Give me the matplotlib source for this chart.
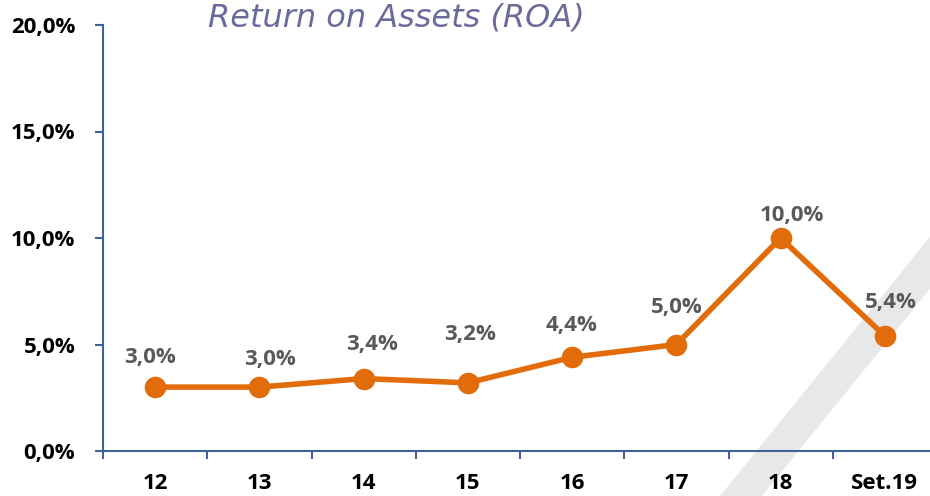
import matplotlib
matplotlib.use("Agg")
from matplotlib import pyplot as plt, patches
from matplotlib.ticker import FixedLocator, NullFormatter

# data
periods = ["12", "13", "14", "15", "16", "17", "18", "Set.19"]
roa = [3.0, 3.0, 3.4, 3.2, 4.4, 5.0, 10.0, 5.4]
y_ticks = [0, 5, 10, 15, 20]

# hand-placed label nudges (pixels, relative to the point)
label_nudge = [(-5, 30), (11, 28), (8, 34), (2, 48), (-1, 32), (0, 37), (11, 22), (6, 33)]

line_color = "#e36c0a"
axis_color = "#3f6399"
label_color = "#595959"
fonts = ["Open Sans", "DejaVu Sans"]

fig = plt.figure(figsize=(9.3, 4.96), dpi=100)

# faint diagonal band in the background (figure pixel coords)
W, H = 930, 496
band = [(720, 496), (762, 496), (1010, 190), (968, 190)]
fig.patches.append(patches.Polygon([(x / W, 1 - y / H) for x, y in band],
                                   closed=True, transform=fig.transFigure,
                                   facecolor="#e8e8e8", edgecolor="none", zorder=0))

ax = fig.add_axes([103 / W, 45 / H, (937 - 103) / W, (451 - 25) / H])
ax.set_zorder(2)
ax.patch.set_alpha(0)

xs = list(range(len(periods)))
ax.plot(xs, roa, color=line_color, lw=4, marker="o", ms=14.5, zorder=3)

px2pt = 72 / 100
for i, v in enumerate(roa):
    dx, dy = label_nudge[i]
    ax.annotate(f"{v:.1f}%".replace(".", ","), (i, v), xytext=(dx * px2pt, dy * px2pt),
                textcoords="offset points", ha="center", va="center",
                fontsize=16, fontweight="bold", color=label_color, family=fonts)

ax.set_xlim(-0.5, len(periods) - 0.5)
ax.set_ylim(0, 20)

ax.set_yticks(y_ticks)
ax.set_yticklabels([f"{t:.1f}%".replace(".", ",") for t in y_ticks])
ax.set_xticks(xs)
ax.set_xticklabels(periods)
ax.xaxis.set_minor_locator(FixedLocator([i - 0.5 for i in range(len(periods) + 1)]))
ax.xaxis.set_minor_formatter(NullFormatter())

for lab in ax.get_xticklabels() + ax.get_yticklabels():
    lab.set_fontweight("bold")
    lab.set_fontsize(16)
    lab.set_family(fonts)
    lab.set_color("black")

ax.tick_params(axis="x", which="major", length=0, pad=16)
ax.tick_params(axis="x", which="minor", length=6, width=1.5, color=axis_color, direction="out")
ax.tick_params(axis="y", length=6, width=1.5, color=axis_color, direction="out", pad=14)

for side in ["top", "right"]:
    ax.spines[side].set_visible(False)
for side in ["left", "bottom"]:
    ax.spines[side].set_color(axis_color)
    ax.spines[side].set_linewidth(1.5)

fig.text(396 / W, 1 - 18 / H, "Return on Assets (ROA)", ha="center", va="center",
         fontsize=23, style="italic", color="#6b6b9b", family="DejaVu Sans")

fig.savefig("out.png", dpi=100)
